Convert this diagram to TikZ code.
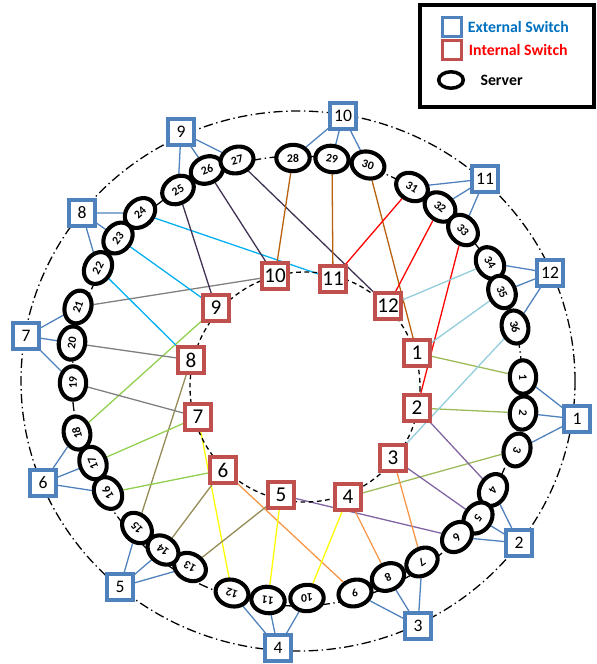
\documentclass[tikz,border=0pt]{standalone}
\usepackage{fontspec}
\setmainfont{Carlito}
\usetikzlibrary{shapes.geometric,positioning,backgrounds}
\definecolor{extblue}{RGB}{79,129,189}
\definecolor{intred}{RGB}{192,80,77}
\definecolor{legblue}{RGB}{0,112,192}
% one link colour for every group of three servers
\definecolor{grp1}{RGB}{155,187,89}
\definecolor{grp2}{RGB}{128,100,162}
\definecolor{grp3}{RGB}{247,150,70}
\definecolor{grp4}{RGB}{255,255,0}
\definecolor{grp5}{RGB}{148,138,84}
\definecolor{grp6}{RGB}{146,208,80}
\definecolor{grp7}{RGB}{128,128,128}
\definecolor{grp8}{RGB}{0,176,240}
\definecolor{grp9}{RGB}{64,49,82}
\definecolor{grp10}{RGB}{184,96,12}
\definecolor{grp11}{RGB}{255,0,0}
\definecolor{grp12}{RGB}{146,205,220}

\begin{document}
\begin{tikzpicture}[x=0.03cm, y=-0.03cm,
  extsw/.style={draw=extblue, fill=white, line width=2.8pt, minimum size=22pt, inner sep=0pt, font=\fontsize{15}{15}\selectfont},
  intsw/.style={draw=intred, fill=white, line width=2.8pt, minimum size=22pt, inner sep=0pt, font=\fontsize{18}{18}\selectfont},
  server/.style={ellipse, draw, fill=white, line width=3.5pt, minimum width=28.5pt, minimum height=22.5pt, inner sep=0pt, font=\bfseries\fontsize{10}{10}\selectfont},
  legtext/.style={inner sep=0pt, font=\bfseries\fontsize{13.5}{13.5}\selectfont},
  uplink/.style={extblue, line width=1.1pt},
  link/.style={line width=1.1pt},
  ring/.style={line width=1.1pt, dash pattern=on 8pt off 3pt on 1.2pt off 3pt}]
 \useasboundingbox (0,0) rectangle (597,664);

 % rings
 \draw[ring] (298,381) ellipse [x radius=277, y radius=270];
 \draw[ring] (297,381) circle [radius=225];
 \draw[line width=1.1pt, dash pattern=on 4pt off 3pt] (305,387) circle [radius=115];

 % external switches
 \foreach \n/\x/\y in {1/577/419, 2/519/543, 3/418/626, 4/278/648, 5/120/587, 6/43/483,
                       7/26/336, 8/82/213, 9/181/132, 10/343/116, 11/485/179, 12/550/273}
  \node[extsw] (e\n) at (\x,\y) {\n};

 % internal switches
 \foreach \n/\x/\y in {1/417/353, 2/417/408, 3/393/458, 4/348/497, 5/281/495, 6/223/470,
                       7/198/417, 8/191/360, 9/216/308, 10/275/276, 11/333/279, 12/388/306}
  \node[intsw] (i\n) at (\x,\y) {\n};

 % servers, turned along the ring
 \foreach \n/\x/\y in {1/523/377, 2/523/413, 3/517/450, 4/493/490, 5/478/518, 6/457/537,
                       7/422/562, 8/388/577, 9/355/593, 10/307/598, 11/268/600, 12/232/593,
                       13/190/567, 14/163/550, 15/137/528, 16/108/493, 17/93/463, 18/77/433,
                       19/73/383, 20/72/343, 21/78/307, 22/98/268, 23/118/238, 24/140/213,
                       25/178/190, 26/207/170, 27/237/160, 28/293/158, 29/332/159, 30/368/165,
                       31/412/187, 32/440/207, 33/463/230, 34/490/263, 35/502/292, 36/515/327}
 {
  \pgfmathsetmacro\rot{atan2(381-\y,\x-297)-90}
  \node[server, rotate=\rot] (s\n) at (\x,\y) {\n};
 }

 \begin{scope}[on background layer]
  % each external switch serves three neighbouring servers
  \foreach \e in {1,...,12}
   \foreach \k in {1,2,3} {
    \pgfmathtruncatemacro\s{3*(\e-1)+\k}
    \draw[uplink] (e\e) -- (s\s);
   }
  % server to internal switch
  \foreach \s/\i in {1/1, 2/2, 3/4, 4/2, 5/3, 6/5, 7/3, 8/4, 9/6, 10/4, 11/5, 12/7,
                     13/5, 14/6, 15/8, 16/6, 17/7, 18/9, 19/7, 20/8, 21/10, 22/8, 23/9, 24/11,
                     25/9, 26/10, 27/12, 28/10, 29/11, 30/1, 31/11, 32/12, 33/2, 34/12, 35/1, 36/3}
  {
   \pgfmathtruncatemacro\g{int((\s-1)/3)+1}
   \draw[link, grp\g] (s\s) -- (i\i);
  }
 \end{scope}

 % legend
 \draw[line width=3.4pt] (420,5) rectangle (594,107);
 \node[extsw, minimum size=16pt, line width=2.6pt] (lgext) at (452,27) {};
 \node[legtext, text=legblue, right=4pt of lgext] {External Switch};
 \node[intsw, minimum size=16pt, line width=2.6pt] (lgint) at (452,50) {};
 \node[legtext, text=red, right=5pt of lgint] {Internal Switch};
 \node[server, minimum width=21pt, minimum height=14pt, line width=3pt] (lgsrv) at (451,80) {};
 \node[legtext, right=13pt of lgsrv] {Server};
\end{tikzpicture}
\end{document}
